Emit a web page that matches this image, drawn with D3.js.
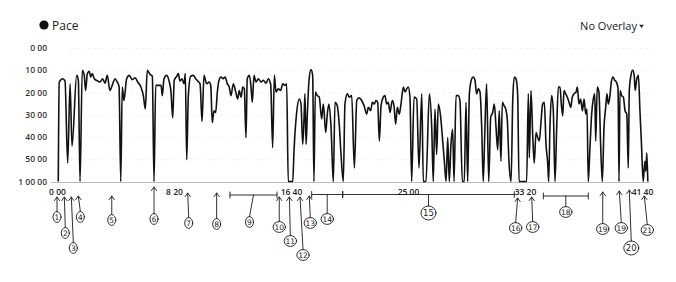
<!DOCTYPE html>
<html>
<head>
<meta charset="utf-8">
<title>Pace</title>
<script src="https://cdn.jsdelivr.net/npm/d3@7"></script>
<style>
  body { margin: 0; background: #fff; }
  svg { display: block; font-family: "Open Sans", sans-serif; }
</style>
</head>
<body>
<svg width="676" height="282"></svg>
<script>
// elapsed time in minutes
var minutes = [
  0.09,0.16,0.41,0.57,0.76,0.93,1.07,1.40,1.52,1.64,
  1.80,1.94,2.04,2.16,2.30,2.40,2.51,2.66,2.90,3.06,
  3.25,3.42,3.58,3.77,3.97,4.13,4.29,4.42,4.54,4.65,
  4.77,4.96,5.15,5.36,5.56,5.75,5.96,6.15,6.29,6.43,
  6.62,6.79,6.91,7.03,7.26,7.41,7.50,7.62,7.81,7.98,
  8.12,8.24,8.35,8.53,8.64,8.76,8.90,9.05,9.14,9.24,
  9.35,9.52,9.71,9.88,10.02,10.19,10.33,10.47,
  10.66,10.83,10.95,11.06,11.18,11.30,11.42,11.54,11.68,11.84,
  11.97,12.13,12.27,12.39,12.56,12.73,12.87,12.98,13.11,13.23,
  13.34,13.46,13.55,13.70,13.82,13.91,14.03,14.17,14.34,14.53,
  14.69,14.89,15.05,15.22,15.36,15.48,15.60,15.76,15.93,16.08,
  16.24,16.36,16.47,16.79,16.88,17.07,17.26,17.38,17.50,17.59,
  17.66,17.74,17.83,17.95,18.09,18.21,18.30,18.40,18.54,18.68,
  18.85,18.97,19.14,19.25,19.37,19.52,19.68,19.80,19.96,20.11,
  20.23,20.39,20.51,20.68,20.82,20.99,
  21.18,21.35,21.51,21.70,21.87,22.06,22.17,22.34,22.46,22.60,
  22.72,22.84,22.96,23.08,23.24,23.36,23.48,23.60,23.72,23.88,
  24.00,24.12,24.24,24.38,24.50,24.67,24.79,24.91,25.02,25.14,
  25.26,25.43,25.62,25.78,25.98,26.09,26.28,26.52,26.69,26.80,
  26.92,27.04,27.16,27.33,27.47,27.59,27.71,27.83,27.94,28.06,
  28.18,28.28,28.42,28.58,28.70,28.87,29.01,29.13,29.25,29.37,
  29.54,29.65,29.77,29.89,30.01,30.13,30.25,30.36,30.48,30.60,
  30.75,30.89,31.03,31.15,31.27,31.39,31.50,
  31.62,31.72,31.84,31.96,32.07,32.19,32.34,32.46,32.57,32.69,
  32.81,32.91,33.45,33.57,33.64,33.76,33.88,33.99,34.12,34.24,
  34.35,34.47,34.59,34.71,34.83,34.95,35.02,35.11,35.23,35.35,
  35.47,35.59,35.71,35.83,35.92,36.02,36.11,36.23,36.35,36.47,
  36.59,36.70,36.82,36.97,37.06,37.18,37.30,37.42,37.54,37.66,
  37.75,37.84,37.96,38.08,38.20,38.30,38.37,38.48,38.60,38.72,
  38.84,38.96,39.08,39.17,39.27,39.37,39.48,39.60,39.72,39.84,
  39.96,40.03,40.10,40.22,40.34,40.46,40.58,40.69,40.76,40.88,
  41.00,41.11,41.18,41.28,41.41,41.52,41.63,41.75,41.87,41.94,
  42.01,42.08
];

// pace in minutes, 60 is the bottom of the scale
var pace = [
  60,15.3,13.8,14.8,51.7,16.1,44.1,12.3,14.5,60,
  10,12.3,19.1,11.5,10.5,13,11.5,13.8,14.8,15.3,
  13.8,15.8,12.3,19.1,16.1,13.8,15.3,17.3,60,17.6,
  23.6,13.8,12.3,14.2,13.4,15.3,17.3,21.4,27.4,10,
  11.8,12.7,60,16.8,16.8,16.8,21.4,13.8,12.3,14.8,
  19.8,31.4,14.5,12.7,11.5,14.8,13.8,16.1,11.5,50.2,
  22.1,12.7,12.3,13.8,14.8,16.1,33,12.3,
  16.1,15.3,16.8,33.5,28.2,29,19.8,14.5,13,13.8,
  13,16.1,17.6,21.4,16.1,19.8,22.9,19.1,22.1,17.6,
  18.3,40.3,13.8,12.3,17.6,24.4,12.3,15.3,13.8,15.3,
  14.5,15.8,13.8,16.4,44.8,12.3,19.8,18.3,19.1,16.1,
  16.8,16.1,60,60,46.4,29,22.9,25.2,43.3,32.7,
  20.6,43.3,29.7,14.5,9.7,12.3,60,19.8,21.4,22.1,
  31.9,25.2,38,29.7,25.2,35.8,60,24.4,25.9,35,
  47.9,60,25.2,20.6,22.1,21.4,
  53.9,23.6,22.4,23.6,25.9,29.7,26.7,28.2,24.4,25.2,
  23.6,24.4,41.8,25.9,22.1,21.4,25.2,24.4,29,23.6,
  25.9,34.2,26.7,29.7,25.2,17.6,19.8,18.3,17.6,22.1,
  60,22.1,22.9,53.9,20.6,60,60,20.6,35.8,60,
  27.4,47.9,25.2,31.2,41.8,50.9,60,40.3,60,43.3,
  36.5,60,21.4,21.4,23.6,60,60,24.4,60,20.6,
  13.8,13,14.5,20.6,18.3,19.8,35.8,60,35.8,16.1,
  60,31.2,29,25.2,35.8,45.7,28.2,
  50.9,24.4,25.9,27.4,31.9,50.9,60,23.6,13,13.8,
  20.6,60,60,20.6,49.4,19.1,38.8,51.7,38,40.3,
  41.8,33.5,25.2,24.4,43.3,51.7,60,35.8,21.4,28.2,
  60,35.8,17.6,17.6,25.2,30.5,19.1,20.6,22.1,24.4,
  26.7,22.1,20.6,19.8,17.6,25.2,22.9,28.2,22.9,29.7,
  27.4,60,44.8,29.7,22.9,20.6,41.8,17.6,19.8,43.3,
  60,35.8,26.7,20.6,25.2,22.1,15.3,13,14.5,15.3,
  18.3,60,19.1,21.4,22.1,28.2,29.7,53.9,19.1,12.3,
  10,12.3,19.1,14.5,12.3,28.2,43.3,60,50.9,55.4,
  47.1,60
];

var yTicks = [0, 10, 20, 30, 40, 50, 60];
var yTickLabels = ["0 00", "10 00", "20 00", "30 00", "40 00", "50 00", "1 00 00"];
var xTicks = [0, 25 / 3, 50 / 3, 25, 100 / 3, 125 / 3];
var xTickLabels = ["0 00", "8 20", "16 40", "25 00", "33 20", "41 40"];

// pencil notes under the axis (time in minutes, a range for the brackets)
var noteText = ["1","2","3","4","5","6","7","8","9","10","11","12","13","14","15","16","17","18","19","19","20","21"];
var noteFrom = [0, 0.52, 1.02, 1.52, 3.90, 6.91, 9.31, 11.37, 12.32, 15.83, 16.55, 17.31, 17.97, 18.14, 20.35, 32.81, 33.81, 34.64, 38.87, 40.05, 40.76, 41.83];
var noteTo   = [0, 0.52, 1.02, 1.52, 3.90, 6.91, 9.31, 11.37, 15.67, 15.83, 16.55, 17.31, 17.97, 20.35, 32.57, 32.81, 33.81, 37.84, 38.87, 40.05, 40.76, 41.83];

// where the pencil marks sit on the page
var noteTop    = [197, 197, 197, 196, 196, 187, 193, 193, 195, 197, 197, 197, 196, 194.5, 194.5, 198, 197, 196, 192, 191, 190, 196];
var noteCircle = [217, 233, 248, 217, 220, 219, 223, 224, 222, 227, 241, 255, 223, 219, 213, 228, 227, 212, 229, 228, 248, 230];
var noteShift  = [0, 1, 2, 2, 0, 0, 1, 0, -4, 0, 1, 3, 1, 0, 0, -2, 1, 0, 0, 2, 2, 3];

var svg = d3.select("svg");

var x = d3.scaleLinear().domain([0, 125 / 3]).range([57, 642]);
var y = d3.scaleLinear().domain([0, 60]).range([48, 181.5]);

// faint grid
svg.append("g")
    .attr("transform", "translate(70,0)")
    .call(d3.axisLeft(y).tickValues(yTicks.slice(0, 6)).tickSize(-580).tickFormat(""))
    .call(g => g.select(".domain").remove())
    .call(g => g.selectAll("line").attr("stroke", "#f1f1f1").attr("stroke-dasharray", "3,3"));

// y labels
svg.append("g")
    .attr("transform", "translate(48,0)")
    .call(d3.axisLeft(y).tickValues(yTicks).tickSize(0).tickPadding(1)
        .tickFormat((d, i) => yTickLabels[i]))
    .call(g => g.select(".domain").remove())
    .call(g => g.selectAll("text").attr("font-size", 8.5).attr("fill", "#333")
        .attr("font-family", "'Open Sans', sans-serif").attr("font-weight", 600));

// baseline
svg.append("line")
    .attr("x1", 51).attr("x2", 650)
    .attr("y1", 182.5).attr("y2", 182.5)
    .attr("stroke", "#bbb").attr("stroke-width", 1);

// x labels
svg.append("g")
    .attr("transform", "translate(0,182.5)")
    .call(d3.axisBottom(x).tickValues(xTicks).tickSize(0).tickPadding(6)
        .tickFormat((d, i) => xTickLabels[i]))
    .call(g => g.select(".domain").remove())
    .call(g => g.selectAll("text").attr("font-size", 8.5).attr("fill", "#222")
        .attr("font-family", "'Open Sans', sans-serif").attr("font-weight", 600));

// pace line
var line = d3.line()
    .x((d, i) => x(minutes[i]))
    .y(d => y(d))
    .curve(d3.curveMonotoneX);

svg.append("path")
    .datum(pace)
    .attr("fill", "none")
    .attr("stroke", "#111")
    .attr("stroke-width", 1.6)
    .attr("stroke-linejoin", "round")
    .attr("d", line);

// legend
svg.append("circle").attr("cx", 44).attr("cy", 25).attr("r", 4.6).attr("fill", "#111");
svg.append("text").attr("x", 52).attr("y", 29.5)
    .attr("font-size", 12).attr("fill", "#222").text("Pace");
svg.append("text").attr("x", 637).attr("y", 29.5).attr("text-anchor", "end")
    .attr("font-size", 11).attr("fill", "#222").text("No Overlay");
svg.append("path").attr("d", "M639.3,24.8L643.7,24.8L641.5,28Z").attr("fill", "#222");

// pencil notes
var notes = svg.append("g")
    .attr("fill", "none")
    .attr("stroke", "#1a1a1a")
    .attr("stroke-width", 0.9)
    .attr("stroke-linecap", "round");

noteText.forEach(function (t, i) {
    var x0 = x(noteFrom[i]), x1 = x(noteTo[i]);
    var top = noteTop[i];
    var rx = t.length > 1 ? 6.2 : 4, ry = 5.4;
    if (t === "15" || t === "20") { rx = 7.5; ry = 7; }
    var cy = noteCircle[i];
    var ax = (x0 + x1) / 2;
    var cx = ax + noteShift[i];

    if (x1 > x0) {
        notes.append("line").attr("x1", x0).attr("x2", x1).attr("y1", top).attr("y2", top);
        notes.append("line").attr("x1", x0).attr("x2", x0).attr("y1", top - 3).attr("y2", top + 3);
        notes.append("line").attr("x1", x1).attr("x2", x1).attr("y1", top - 3).attr("y2", top + 3);
    } else {
        notes.append("path")
            .attr("d", "M" + (ax - 2.6) + "," + (top + 3.6) + "L" + ax + "," + top + "L" + (ax + 2.6) + "," + (top + 3.6));
    }
    notes.append("line").attr("x1", ax).attr("y1", top).attr("x2", cx).attr("y2", cy - ry);
    notes.append("ellipse").attr("cx", cx).attr("cy", cy).attr("rx", rx).attr("ry", ry);
    svg.append("text")
        .attr("x", cx).attr("y", cy + 2.8)
        .attr("text-anchor", "middle")
        .attr("font-size", t === "15" || t === "20" ? 8.5 : 7.5)
        .attr("font-family", "'DejaVu Sans', sans-serif")
        .attr("fill", "#1a1a1a")
        .text(t);
});
</script>
</body>
</html>
